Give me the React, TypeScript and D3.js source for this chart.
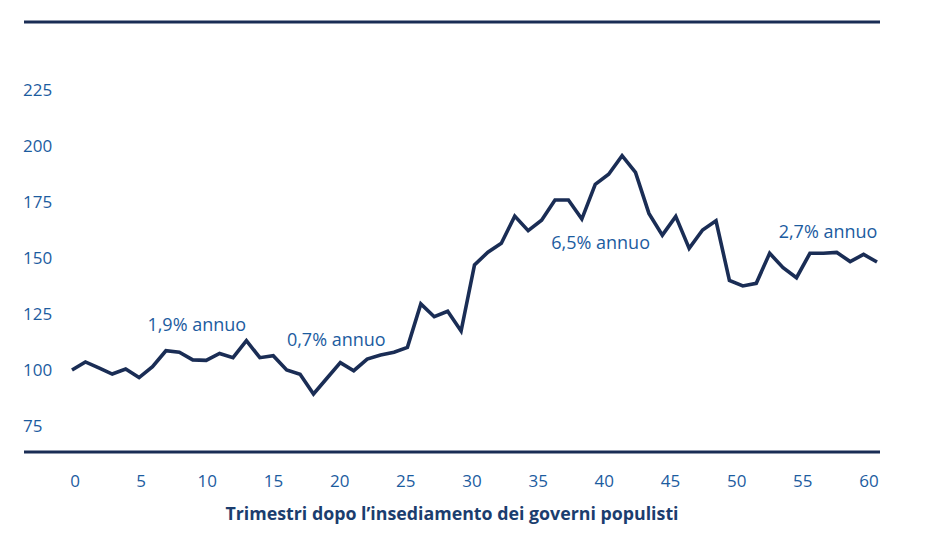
import React, { useEffect, useRef } from 'react';
import * as d3 from 'd3';

// Quarterly index after populist governments took office (0 = 100)
const quarters: number[] = d3.range(0, 61);
const indexValues: number[] = [
  100, 103.6, 100.9, 98.2, 100.4, 96.6, 101.5, 108.6, 107.9, 104.5,
  104.3, 107.4, 105.5, 113.1, 105.5, 106.4, 100, 98.1, 89.3, 96.3,
  103.3, 99.7, 104.9, 106.7, 107.9, 110.1, 129.5, 123.8, 126.2, 117.4,
  146.9, 152.6, 156.6, 168.7, 162.2, 166.9, 175.9, 175.9, 167.4, 182.9,
  187.4, 195.7, 188.2, 169.9, 160.2, 168.6, 154.3, 162.5, 166.6, 140,
  137.5, 138.7, 152.1, 145.7, 141.2, 152.1, 152.1, 152.5, 148.4, 151.6,
  148.2,
];

const yTicks: number[] = [75, 100, 125, 150, 175, 200, 225];
const xTicks: number[] = [0, 5, 10, 15, 20, 25, 30, 35, 40, 45, 50, 55, 60];

const annotationLabels: string[] = ['1,9% annuo', '0,7% annuo', '6,5% annuo', '2,7% annuo'];
// [quarter, index] at the centre of each label
const annotationAt: number[][] = [
  [9.3, 120.1],
  [19.7, 113.8],
  [39.4, 156.7],
  [56.35, 161.6],
];

const xTitle = 'Trimestri dopo l\u2019insediamento dei governi populisti';

const W = 937;
const H = 537;
const FONT = '"Open Sans", "Noto Sans", sans-serif';
const NAVY = '#1a2d55';
const BLUE = '#1c5c9f';
const TITLE_BLUE = '#1b3d6e';

export default function App() {
  const ref = useRef<SVGSVGElement>(null);

  useEffect(() => {
    if (!ref.current) return;
    const svg = d3.select(ref.current);
    svg.selectAll('*').remove();

    const x = d3.scaleLinear().domain([0, 60]).range([72, 877]);
    const xLabel = d3.scaleLinear().domain([0, 60]).range([75, 869]);
    const y = d3.scaleLinear().domain([100, 225]).range([370, 90]);

    // frame rules
    [22, 452].forEach((yy) => {
      svg.append('line')
        .attr('x1', 24).attr('x2', 880)
        .attr('y1', yy).attr('y2', yy)
        .attr('stroke', NAVY)
        .attr('stroke-width', 2.8);
    });

    // y tick labels
    svg.append('g')
      .selectAll('text')
      .data(yTicks)
      .join('text')
      .attr('x', 23)
      .attr('y', (d) => y(d))
      .attr('dy', '0.36em')
      .attr('fill', BLUE)
      .attr('font-family', FONT)
      .attr('font-size', 17)
      .text((d) => d);

    // x tick labels
    svg.append('g')
      .selectAll('text')
      .data(xTicks)
      .join('text')
      .attr('x', (d) => xLabel(d))
      .attr('y', 481)
      .attr('dy', '0.36em')
      .attr('text-anchor', 'middle')
      .attr('fill', BLUE)
      .attr('font-family', FONT)
      .attr('font-size', 17)
      .text((d) => d);

    svg.append('text')
      .attr('x', 452)
      .attr('y', 514)
      .attr('dy', '0.36em')
      .attr('text-anchor', 'middle')
      .attr('fill', TITLE_BLUE)
      .attr('font-family', FONT)
      .attr('font-weight', 700)
      .attr('font-size', 17.8)
      .text(xTitle);

    // series line
    const line = d3.line<number>()
      .x((_, i) => x(quarters[i]))
      .y((d) => y(d));

    svg.append('path')
      .datum(indexValues)
      .attr('d', line)
      .attr('fill', 'none')
      .attr('stroke', NAVY)
      .attr('stroke-width', 3.6)
      .attr('stroke-linejoin', 'miter');

    // annotations
    svg.append('g')
      .selectAll('text')
      .data(annotationLabels)
      .join('text')
      .attr('x', (_, i) => x(annotationAt[i][0]))
      .attr('y', (_, i) => y(annotationAt[i][1]))
      .attr('dy', '0.36em')
      .attr('text-anchor', 'middle')
      .attr('fill', BLUE)
      .attr('font-family', FONT)
      .attr('font-size', 18)
      .text((d) => d);
  }, []);

  return (
    <svg
      ref={ref}
      width={W}
      height={H}
      viewBox={`0 0 ${W} ${H}`}
      style={{ position: 'absolute', left: 0, top: 0, background: '#fff' }}
    />
  );
}
